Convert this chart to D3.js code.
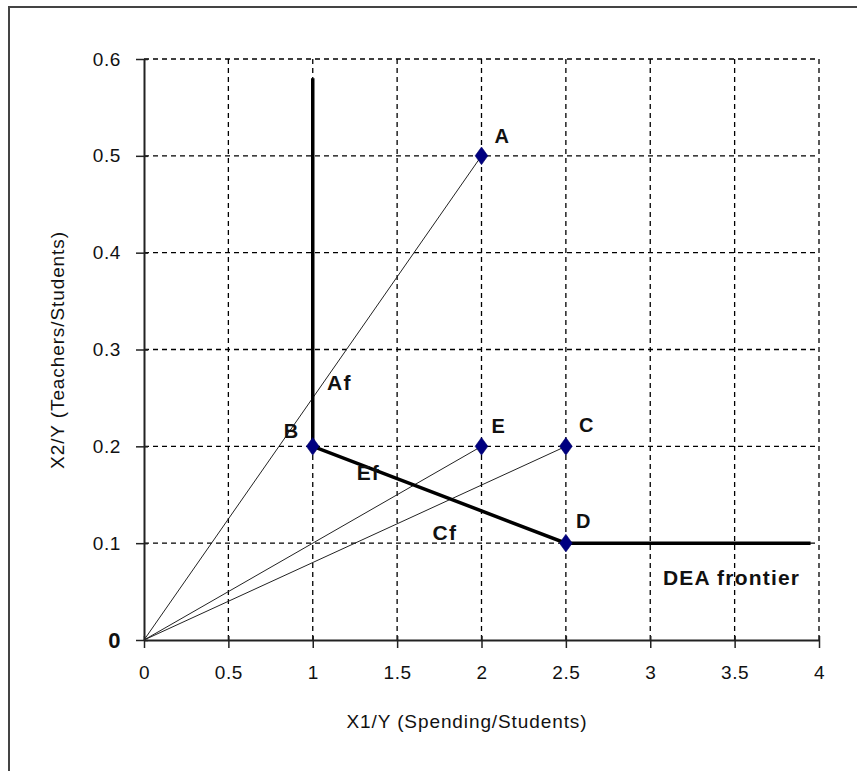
<!DOCTYPE html>
<html lang="en">
  <head>
    <meta charset="utf-8">
    <title>DEA frontier</title>
    <script src="https://d3js.org/d3.v7.min.js"></script>
    <style>
      body { margin: 0; background: #fff; }
      text { font-family: "Liberation Sans", Arial, sans-serif; fill: #111; }
    </style>
  </head>
  <body>
    <div id="here"></div>
    <script>
      // points (x1/y, x2/y)
      var names = ["A", "B", "C", "D", "E"];
      var x1 = [2, 1, 2.5, 2.5, 2];
      var x2 = [0.5, 0.2, 0.2, 0.1, 0.2];

      // frontier polyline
      var frontX = [1, 1, 2.5, 3.95];
      var frontY = [0.58, 0.2, 0.1, 0.1];

      // rays from the origin to these units
      var rays = ["A", "E", "C"];

      // projected points + frontier label
      var noteText = ["Af", "Ef", "Cf", "DEA frontier"];
      var noteX = [1.085, 1.26, 1.71, 3.075];
      var noteY = [0.258, 0.165, 0.103, 0.057];

      var xTicks = [0, 0.5, 1, 1.5, 2, 2.5, 3, 3.5, 4];
      var xTickLabels = ["0", "0.5", "1", "1.5", "2", "2.5", "3", "3.5", "4"];
      var yTicks = [0, 0.1, 0.2, 0.3, 0.4, 0.5, 0.6];
      var yTickLabels = ["0", "0.1", "0.2", "0.3", "0.4", "0.5", "0.6"];

      var w = 857, h = 771;
      var x = d3.scaleLinear().domain([0, 4]).range([144, 819]);
      var y = d3.scaleLinear().domain([0, 0.6]).range([640, 59]);

      var svg = d3.select("#here").append("svg")
        .attr("width", w).attr("height", h);

      // outer frame (only top + left visible)
      svg.append("rect")
        .attr("x", 9).attr("y", 7).attr("width", w + 20).attr("height", h + 20)
        .attr("fill", "none").attr("stroke", "#444").attr("stroke-width", 2);

      // grid
      svg.append("g").selectAll("line").data(xTicks.slice(1)).enter().append("line")
        .attr("x1", d => x(d)).attr("x2", d => x(d))
        .attr("y1", y(0)).attr("y2", y(0.6))
        .attr("stroke", "#000").attr("stroke-width", 1.3).attr("stroke-dasharray", "5,4");
      svg.append("g").selectAll("line").data(yTicks.slice(1)).enter().append("line")
        .attr("y1", d => y(d)).attr("y2", d => y(d))
        .attr("x1", x(0)).attr("x2", x(4))
        .attr("stroke", "#000").attr("stroke-width", 1.3).attr("stroke-dasharray", "5,4");

      // axes
      var xAxis = d3.axisBottom(x).tickValues(xTicks)
        .tickFormat((d, i) => xTickLabels[i]).tickSizeInner(8).tickSizeOuter(0).tickPadding(18);
      var gx = svg.append("g").attr("transform", "translate(0," + y(0) + ")").call(xAxis);
      var yAxis = d3.axisLeft(y).tickValues(yTicks)
        .tickFormat((d, i) => yTickLabels[i]).tickSizeInner(8).tickSizeOuter(0).tickPadding(15);
      var gy = svg.append("g").attr("transform", "translate(" + x(0) + ",0)").call(yAxis);

      [gx, gy].forEach(function(g) {
        g.select(".domain").attr("stroke", "#222").attr("stroke-width", 2);
        g.selectAll(".tick line").attr("stroke", "#222").attr("stroke-width", 1.5);
        g.selectAll(".tick text").attr("font-size", 19).attr("fill", "#222")
          .attr("letter-spacing", 0.6)
          .attr("font-family", "Liberation Sans, Arial, sans-serif");
      });
      gx.selectAll(".tick line").attr("y1", -4);
      gy.selectAll(".tick line").attr("x1", 4);
      // the zero on the y axis is bold serif
      gy.selectAll(".tick text").filter(d => d === 0)
        .attr("font-family", "Liberation Serif, Times New Roman, serif")
        .attr("font-weight", "bold").attr("font-size", 22).attr("fill", "#000");

      // rays from origin
      var line = d3.line().x(d => x(d[0])).y(d => y(d[1]));
      rays.forEach(function(n) {
        var i = names.indexOf(n);
        svg.append("path").attr("d", line([[0, 0], [x1[i], x2[i]]]))
          .attr("fill", "none").attr("stroke", "#222").attr("stroke-width", 1);
      });

      // frontier
      svg.append("path").attr("d", line(frontX.map((d, i) => [d, frontY[i]])))
        .attr("fill", "none").attr("stroke", "#000").attr("stroke-width", 3.5);

      // points
      var sym = d3.symbol().type(d3.symbolDiamond).size(90);
      svg.append("g").selectAll("path").data(names).enter().append("path")
        .attr("d", sym)
        .attr("transform", (d, i) => "translate(" + x(x1[i]) + "," + y(x2[i]) + ") scale(1.25,1)")
        .attr("fill", "#000080").attr("stroke", "#000060").attr("stroke-width", 0.5);

      // point labels
      var offs = { A: [13, -13], B: [-29, -8], C: [13, -14], D: [10, -15], E: [10, -13] };
      svg.append("g").selectAll("text").data(names).enter().append("text")
        .attr("x", (d, i) => x(x1[i]) + offs[d][0])
        .attr("y", (d, i) => y(x2[i]) + offs[d][1])
        .attr("font-size", 20).attr("font-weight", "bold")
        .text(d => d);

      // notes
      svg.append("g").selectAll("text").data(noteText).enter().append("text")
        .attr("x", (d, i) => x(noteX[i]))
        .attr("y", (d, i) => y(noteY[i]))
        .attr("font-size", 21).attr("font-weight", "bold").attr("letter-spacing", 1.2)
        .text(d => d);

      // axis titles
      svg.append("text").attr("x", 467).attr("y", 728)
        .attr("text-anchor", "middle").attr("font-size", 19).attr("fill", "#222")
        .attr("letter-spacing", 0.9)
        .text("X1/Y (Spending/Students)");
      svg.append("text").attr("transform", "translate(64,350) rotate(-90)")
        .attr("text-anchor", "middle").attr("font-size", 19).attr("fill", "#222")
        .attr("letter-spacing", 0.9)
        .text("X2/Y (Teachers/Students)");
    </script>
  </body>
</html>
